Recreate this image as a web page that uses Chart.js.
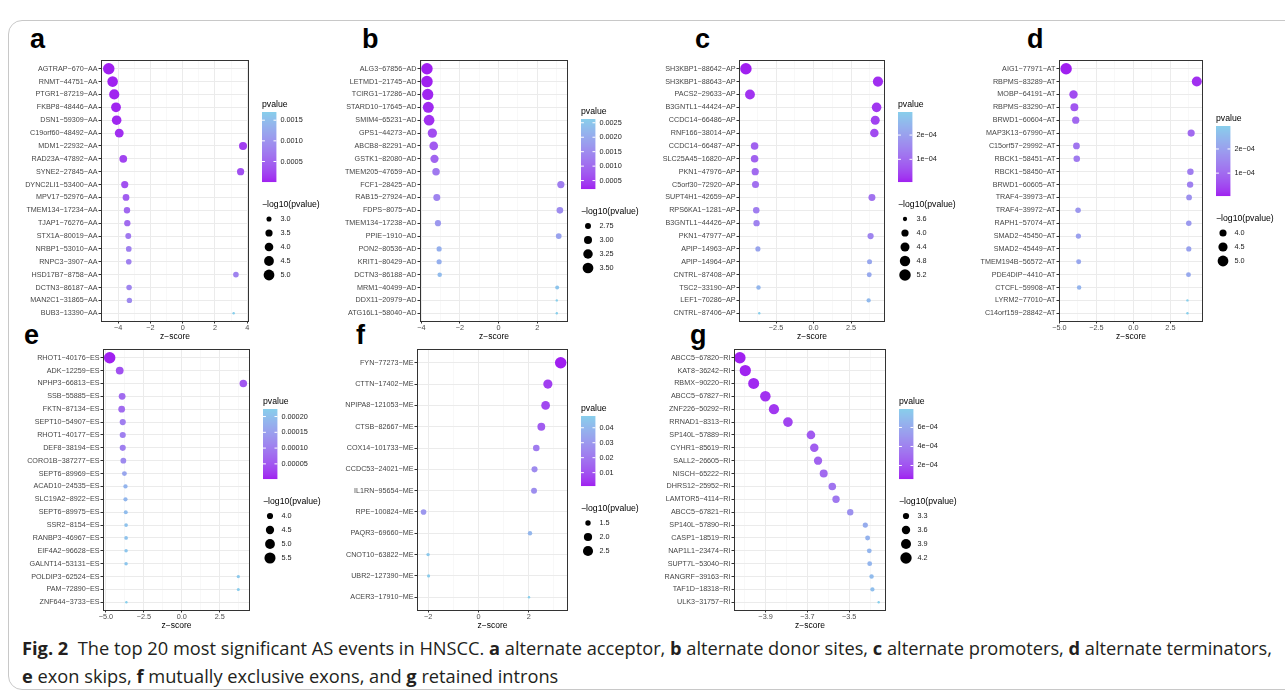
<!DOCTYPE html>
<html><head><meta charset="utf-8">
<script src="https://cdn.jsdelivr.net/npm/chart.js@4"></script>
<style>
html,body{margin:0;padding:0;background:#fff;}
body{width:1285px;height:697px;position:relative;overflow:hidden;font-family:"Liberation Sans",Arial,sans-serif;}
.frame{position:absolute;left:8px;top:20px;width:1320px;height:668px;border:1px solid #c8c8c8;border-radius:14px;}
.letter{position:absolute;font-weight:bold;font-size:27px;line-height:27px;color:#000;}
canvas{position:absolute;}
.cap{position:absolute;left:22px;white-space:nowrap;font-family:"Open Sans",sans-serif;font-size:18px;line-height:22px;color:#231f20;transform-origin:0 0;}
.cap b{font-weight:700;}
</style></head><body>
<div class="frame"></div>
<div class="letter" style="left:30px;top:26px">a</div>
<div class="letter" style="left:362px;top:26px">b</div>
<div class="letter" style="left:695px;top:26px">c</div>
<div class="letter" style="left:1027px;top:26px">d</div>
<div class="letter" style="left:24px;top:322px">e</div>
<div class="letter" style="left:356px;top:322px">f</div>
<div class="letter" style="left:690px;top:322px">g</div>
<div class="cap" id="cap1" style="top:637px"><b>Fig. 2</b>&nbsp; The top 20 most significant AS events in HNSCC. <b>a</b> alternate acceptor, <b>b</b> alternate donor sites, <b>c</b> alternate promoters, <b>d</b> alternate terminators,</div>
<div class="cap" id="cap2" style="top:665px"><b>e</b> exon skips, <b>f</b> mutually exclusive exons, and <b>g</b> retained introns</div>
<script>
// ---------- data ----------
const aEvents = ['AGTRAP−670−AA','RNMT−44751−AA','PTGR1−87219−AA','FKBP8−48446−AA','DSN1−59309−AA','C19orf60−48492−AA','MDM1−22932−AA','RAD23A−47892−AA','SYNE2−27845−AA','DYNC2LI1−53400−AA','MPV17−52976−AA','TMEM134−17234−AA','TJAP1−76276−AA','STX1A−80019−AA','NRBP1−53010−AA','RNPC3−3907−AA','HSD17B7−8758−AA','DCTN3−86187−AA','MAN2C1−31865−AA','BUB3−13390−AA'];
const aZ = [-4.58,-4.34,-4.24,-4.13,-4.09,-3.93,3.74,-3.68,3.59,-3.59,-3.51,-3.45,-3.43,-3.37,-3.34,-3.34,3.30,-3.32,-3.30,3.16];
const aLogP = [5.39,4.89,4.69,4.50,4.40,4.11,3.77,3.67,3.51,3.50,3.37,3.28,3.25,3.16,3.11,3.10,3.09,3.08,3.05,2.77];

const bEvents = ['ALG3−67856−AD','LETMD1−21745−AD','TCIRG1−17286−AD','STARD10−17645−AD','SMIM4−65231−AD','GPS1−44273−AD','ABCB8−82291−AD','GSTK1−82080−AD','TMEM205−47659−AD','FCF1−28425−AD','RAB15−27924−AD','FDPS−8075−AD','TMEM134−17238−AD','PPIE−1910−AD','PON2−80536−AD','KRIT1−80429−AD','DCTN3−86188−AD','MRM1−40499−AD','DDX11−20979−AD','ATG16L1−58040−AD'];
const bZ = [-3.71,-3.71,-3.67,-3.64,-3.60,-3.43,-3.36,-3.32,-3.24,3.22,-3.20,3.17,-3.14,3.11,-3.08,-3.08,-3.05,3.03,3.01,3.01];
const bLogP = [3.68,3.68,3.61,3.56,3.50,3.22,3.11,3.04,2.92,2.89,2.86,2.82,2.77,2.73,2.68,2.68,2.64,2.61,2.58,2.58];

const cEvents = ['SH3KBP1−88642−AP','SH3KBP1−88643−AP','PACS2−29633−AP','B3GNTL1−44424−AP','CCDC14−66486−AP','RNF166−38014−AP','CCDC14−66487−AP','SLC25A45−16820−AP','PKN1−47976−AP','C5orf30−72920−AP','SUPT4H1−42659−AP','RPS6KA1−1281−AP','B3GNTL1−44426−AP','PKN1−47977−AP','APIP−14963−AP','APIP−14964−AP','CNTRL−87408−AP','TSC2−33190−AP','LEF1−70286−AP','CNTRL−87406−AP'];
const cZ = [-4.51,4.29,-4.24,4.20,4.11,4.05,-3.93,-3.93,-3.89,-3.87,3.89,-3.82,-3.80,3.80,-3.71,3.73,3.71,-3.67,3.67,-3.62];
const cLogP = [5.19,4.75,4.65,4.57,4.40,4.29,4.07,4.07,4.00,3.96,3.95,3.87,3.84,3.83,3.68,3.67,3.66,3.61,3.60,3.53];

const dEvents = ['AIG1−77971−AT','RBPMS−83289−AT','MOBP−64191−AT','RBPMS−83290−AT','BRWD1−60604−AT','MAP3K13−67990−AT','C15orf57−29992−AT','RBCK1−58451−AT','RBCK1−58450−AT','BRWD1−60605−AT','TRAF4−39973−AT','TRAF4−39972−AT','RAPH1−57074−AT','SMAD2−45450−AT','SMAD2−45449−AT','TMEM194B−56572−AT','PDE4DIP−4410−AT','CTCFL−59908−AT','LYRM2−77010−AT','C14orf159−28842−AT'];
const dZ = [-4.55,4.28,-4.05,-3.99,-3.90,3.90,-3.85,-3.83,3.85,3.83,3.76,-3.74,3.74,-3.72,3.74,-3.70,3.72,-3.67,3.65,3.65];
const dLogP = [5.27,4.73,4.29,4.18,4.02,4.01,3.93,3.89,3.88,3.86,3.77,3.74,3.73,3.70,3.69,3.67,3.66,3.62,3.53,3.53];

const eEvents = ['RHOT1−40176−ES','ADK−12259−ES','NPHP3−66813−ES','SSB−55885−ES','FKTN−87134−ES','SEPT10−54907−ES','RHOT1−40177−ES','DEF8−38194−ES','CORO1B−387277−ES','SEPT6−89969−ES','ACAD10−24535−ES','SLC19A2−8922−ES','SEPT6−89975−ES','SSR2−8154−ES','RANBP3−46967−ES','EIF4A2−96628−ES','GALNT14−53131−ES','POLDIP3−62524−ES','PAM−72890−ES','ZNF644−3733−ES'];
const eZ = [-4.75,-4.09,4.05,-3.93,-3.96,-3.89,-3.89,-3.89,-3.85,-3.78,-3.71,-3.71,-3.69,-3.67,-3.67,-3.67,-3.67,3.72,3.72,-3.65];
const eLogP = [5.69,4.37,4.29,4.13,4.12,4.00,3.99,3.99,3.93,3.80,3.74,3.73,3.71,3.69,3.69,3.68,3.68,3.67,3.66,3.65];

const fEvents = ['FYN−77273−ME','CTTN−17402−ME','NPIPA8−121053−ME','CTSB−82667−ME','COX14−101733−ME','CCDC53−24021−ME','IL1RN−95654−ME','RPE−100824−ME','PAQR3−69660−ME','CNOT10−63822−ME','UBR2−127390−ME','ACER3−17910−ME'];
const fZ = [3.27,2.76,2.67,2.50,2.30,2.23,2.21,-2.18,2.05,-2.00,-1.98,2.01];
const fLogP = [2.97,2.24,2.12,1.91,1.67,1.59,1.57,1.53,1.40,1.34,1.33,1.32];

const gEvents = ['ABCC5−67820−RI','KAT8−36242−RI','RBMX−90220−RI','ABCC5−67827−RI','ZNF226−50292−RI','RRNAD1−8313−RI','SP140L−57889−RI','CYHR1−85619−RI','SALL2−26605−RI','NISCH−65222−RI','DHRS12−25952−RI','LAMTOR5−4114−RI','ABCC5−67821−RI','SP140L−57890−RI','CASP1−18519−RI','NAP1L1−23474−RI','SUPT7L−53040−RI','RANGRF−39163−RI','TAF1D−18318−RI','ULK3−31757−RI'];
const gZ = [-4.023,-3.997,-3.957,-3.901,-3.860,-3.793,-3.683,-3.667,-3.649,-3.622,-3.581,-3.563,-3.495,-3.423,-3.412,-3.404,-3.402,-3.393,-3.389,-3.359];
const gLogP = [4.24,4.19,4.12,4.02,3.95,3.83,3.64,3.61,3.58,3.53,3.47,3.44,3.32,3.21,3.19,3.18,3.18,3.16,3.15,3.10];

// tick labels
const aXTicks = [-4,-2,0,2,4];      const aXLabels = ['−4','−2','0','2','4'];
const bXTicks = [-4,-2,0,2];        const bXLabels = ['−4','−2','0','2'];
const cXTicks = [-2.5,0,2.5];       const cXLabels = ['−2.5','0.0','2.5'];
const dXTicks = [-5,-2.5,0,2.5];    const dXLabels = ['−5.0','−2.5','0.0','2.5'];
const eXTicks = [-5,-2.5,0,2.5];    const eXLabels = ['−5.0','−2.5','0.0','2.5'];
const fXTicks = [-2,0,2];           const fXLabels = ['−2','0','2'];
const gXTicks = [-3.9,-3.7,-3.5];   const gXLabels = ['−3.9','−3.7','−3.5'];

const aPBreaks = [0.0005,0.0010,0.0015];               const aPLabels = ['0.0005','0.0010','0.0015'];
const bPBreaks = [0.0005,0.0010,0.0015,0.0020,0.0025]; const bPLabels = ['0.0005','0.0010','0.0015','0.0020','0.0025'];
const cPBreaks = [1e-4,2e-4];                          const cPLabels = ['1e−04','2e−04'];
const dPBreaks = [1e-4,2e-4];                          const dPLabels = ['1e−04','2e−04'];
const ePBreaks = [0.00005,0.00010,0.00015,0.00020];    const ePLabels = ['0.00005','0.00010','0.00015','0.00020'];
const fPBreaks = [0.01,0.02,0.03,0.04];                const fPLabels = ['0.01','0.02','0.03','0.04'];
const gPBreaks = [2e-4,4e-4,6e-4];                     const gPLabels = ['2e−04','4e−04','6e−04'];

const aSizeBreaks = [3.0,3.5,4.0,4.5,5.0];   const aSizeLabels = ['3.0','3.5','4.0','4.5','5.0'];
const bSizeBreaks = [2.75,3.00,3.25,3.50];   const bSizeLabels = ['2.75','3.00','3.25','3.50'];
const cSizeBreaks = [3.6,4.0,4.4,4.8,5.2];   const cSizeLabels = ['3.6','4.0','4.4','4.8','5.2'];
const dSizeBreaks = [4.0,4.5,5.0];           const dSizeLabels = ['4.0','4.5','5.0'];
const eSizeBreaks = [4.0,4.5,5.0,5.5];       const eSizeLabels = ['4.0','4.5','5.0','5.5'];
const fSizeBreaks = [1.5,2.0,2.5];           const fSizeLabels = ['1.5','2.0','2.5'];
const gSizeBreaks = [3.3,3.6,3.9,4.2];       const gSizeLabels = ['3.3','3.6','3.9','4.2'];

// ---------- layout (page px) ----------
const panels = [
 {ev:aEvents,z:aZ,lp:aLogP,xt:aXTicks,xl:aXLabels,pb:aPBreaks,pl:aPLabels,sb:aSizeBreaks,sl:aSizeLabels,rect:[101,61,248.7,320.5],xr:[-5.06,4.11],lc:190},
 {ev:bEvents,z:bZ,lp:bLogP,xt:bXTicks,xl:bXLabels,pb:bPBreaks,pl:bPLabels,sb:bSizeBreaks,sl:bSizeLabels,rect:[420,61,567.7,320.5],xr:[-4.07,3.59],lc:190},
 {ev:cEvents,z:cZ,lp:cLogP,xt:cXTicks,xl:cXLabels,pb:cPBreaks,pl:cPLabels,sb:cSizeBreaks,sl:cSizeLabels,rect:[739.3,61,885.7,320.5],xr:[-4.97,4.76],lc:190},
 {ev:dEvents,z:dZ,lp:dLogP,xt:dXTicks,xl:dXLabels,pb:dPBreaks,pl:dPLabels,sb:dSizeBreaks,sl:dSizeLabels,rect:[1059.3,61,1203.3,320.5],xr:[-5.03,4.70],lc:190},
 {ev:eEvents,z:eZ,lp:eLogP,xt:eXTicks,xl:eXLabels,pb:ePBreaks,pl:ePLabels,sb:eSizeBreaks,sl:eSizeLabels,rect:[102.7,350,249.3,610],xr:[-5.19,4.49],lc:480},
 {ev:fEvents,z:fZ,lp:fLogP,xt:fXTicks,xl:fXLabels,pb:fPBreaks,pl:fPLabels,sb:fSizeBreaks,sl:fSizeLabels,rect:[417,350,567.7,610],xr:[-2.44,3.56],lc:480},
 {ev:gEvents,z:gZ,lp:gLogP,xt:gXTicks,xl:gXLabels,pb:gPBreaks,pl:gPLabels,sb:gSizeBreaks,sl:gSizeLabels,rect:[733.7,349.5,885.7,609.7],xr:[-4.051,-3.324],lc:480}
];

// ---------- colour helpers (CIELAB interpolation like ggplot) ----------
function s2l(c){c/=255;return c<=0.04045?c/12.92:Math.pow((c+0.055)/1.055,2.4);}
function l2s(c){c=c<=0.0031308?12.92*c:1.055*Math.pow(c,1/2.4)-0.055;return Math.max(0,Math.min(255,Math.round(c*255)));}
function rgb2lab(rgb){const r=s2l(rgb[0]),g=s2l(rgb[1]),b=s2l(rgb[2]);
 const X=(0.4124*r+0.3576*g+0.1805*b)/0.95047,Y=(0.2126*r+0.7152*g+0.0722*b),Z=(0.0193*r+0.1192*g+0.9505*b)/1.08883;
 const f=t=>t>0.008856?Math.cbrt(t):(7.787*t+16/116);const fx=f(X),fy=f(Y),fz=f(Z);
 return [116*fy-16,500*(fx-fy),200*(fy-fz)];}
function lab2rgb(l){const fy=(l[0]+16)/116,fx=fy+l[1]/500,fz=fy-l[2]/200;
 const fi=t=>{const t3=t*t*t;return t3>0.008856?t3:(t-16/116)/7.787;};
 const X=fi(fx)*0.95047,Y=fi(fy),Z=fi(fz)*1.08883;
 const r=3.2406*X-1.5372*Y-0.4986*Z,g=-0.9689*X+1.8758*Y+0.0415*Z,b=0.0557*X-0.2040*Y+1.0570*Z;
 return 'rgb('+l2s(r)+','+l2s(g)+','+l2s(b)+')';}
const LOW=rgb2lab([160,32,240]), HIGH=rgb2lab([135,206,235]);
function grad(t){t=Math.max(0,Math.min(1,t));return lab2rgb([0,1,2].map(k=>LOW[k]+(HIGH[k]-LOW[k])*t));}
function radiusFor(v,vmin,vmax){const t=Math.max(0,Math.min(1,(v-vmin)/(vmax-vmin)));return 1.2+4.55*Math.sqrt(t);}

const FAM='"Liberation Sans", Arial, sans-serif';
Chart.defaults.font.family=FAM;

const YW=100, PADT=8, XH=21, LEGW=110;

function makePanel(P){
  const [L,T,R,B]=P.rect;
  const cLeft=Math.round(L)-YW, cTop=Math.round(T)-PADT;
  const plotW=Math.round(R-L), plotH=Math.round(B-T);
  const W=YW+plotW+LEGW, H=PADT+plotH+XH;
  const cv=document.createElement('canvas');
  cv.width=W;cv.height=H;cv.style.left=cLeft+'px';cv.style.top=cTop+'px';
  cv.style.width=W+'px';cv.style.height=H+'px';
  document.body.appendChild(cv);

  const n=P.ev.length;
  const pv=P.lp.map(v=>Math.pow(10,-v));
  const pmin=Math.min(...pv), pmax=Math.max(...pv);
  const vmin=Math.min(...P.lp), vmax=Math.max(...P.lp);
  const colors=pv.map(p=>grad((p-pmin)/(pmax-pmin)));
  const radii=P.lp.map(v=>radiusFor(v,vmin,vmax));

  const step=P.xt[1]-P.xt[0];
  const xticks=P.xt.map((v,i)=>({value:v,lab:P.xl[i],minor:false}));
  const mins=[P.xt[0]-step/2];
  for(let i=0;i<P.xt.length;i++) mins.push(P.xt[i]+step/2);
  mins.forEach(m=>{ if(m>P.xr[0]&&m<P.xr[1]) xticks.push({value:m,lab:'',minor:true}); });
  xticks.sort((a,b)=>a.value-b.value);

  const legend={
    id:'ggLegend',
    afterDraw(chart){
      const ctx=chart.ctx, ca=chart.chartArea;
      const x0=ca.right+13;
      const nk=P.sb.length;
      const blockH=125+14*(nk-1);
      const tc=P.lc-blockH/2+5.5-cTop;
      ctx.save();
      ctx.fillStyle='#000';ctx.textBaseline='middle';ctx.textAlign='left';
      ctx.font='8.7px '+FAM;
      ctx.fillText('pvalue',x0,tc);
      const bt=tc+7, bh=70, bw=14.4, bb=bt+bh;
      for(let y=0;y<bh;y++){ctx.fillStyle=grad(1-(y+0.5)/bh);ctx.fillRect(x0,bt+y,bw,1.05);}
      ctx.strokeStyle='#fff';ctx.lineWidth=1;
      ctx.font='7.3px '+FAM;
      P.pb.forEach((b,i)=>{
        const y=bb-(b-pmin)/(pmax-pmin)*bh;
        ctx.beginPath();ctx.moveTo(x0,y);ctx.lineTo(x0+2.9,y);ctx.moveTo(x0+bw-2.9,y);ctx.lineTo(x0+bw,y);ctx.stroke();
        ctx.fillStyle='#1a1a1a';ctx.fillText(P.pl[i],x0+18.4,y);
      });
      ctx.fillStyle='#000';
      ctx.font='8.7px '+FAM;
      ctx.fillText('−log10(pvalue)',x0,tc+99.4);
      ctx.font='7.3px '+FAM;
      P.sb.forEach((s,i)=>{
        const y=tc+114+14*i;
        ctx.fillStyle='#000';ctx.beginPath();ctx.arc(x0+7,y,radiusFor(s,vmin,vmax),0,Math.PI*2);ctx.fill();
        ctx.fillStyle='#1a1a1a';ctx.fillText(P.sl[i],x0+18.4,y);
      });
      ctx.restore();
    }
  };
  const frame={
    id:'ggFrame',
    afterDatasetsDraw(chart){
      const ctx=chart.ctx, ca=chart.chartArea;
      ctx.save();ctx.strokeStyle='#333333';ctx.lineWidth=1;
      ctx.strokeRect(Math.round(ca.left)+0.5,Math.round(ca.top)-0.5,Math.round(ca.right-ca.left)-1,Math.round(ca.bottom-ca.top)+1);
      ctx.restore();
    }
  };

  new Chart(cv,{
    type:'scatter',
    data:{datasets:[{data:P.z.map((x,i)=>({x:x,y:i})),pointRadius:radii,pointHoverRadius:radii,
      pointBackgroundColor:colors,pointBorderWidth:0,borderWidth:0,clip:false}]},
    options:{
      responsive:false,animation:false,devicePixelRatio:1,
      layout:{padding:{left:0,top:PADT,right:LEGW,bottom:0}},
      plugins:{legend:{display:false},tooltip:{enabled:false}},
      events:[],
      scales:{
        x:{type:'linear',position:'bottom',min:P.xr[0],max:P.xr[1],
          afterBuildTicks:s=>{s.ticks=xticks.map(t=>({value:t.value,lab:t.lab,minor:t.minor}));},
          afterFit:s=>{s.height=XH;},
          ticks:{autoSkip:false,maxRotation:0,padding:0.5,color:'#4d4d4d',font:{size:7.3,lineHeight:1},
            callback:(v,i,ts)=>ts[i].lab},
          grid:{color:ctx=>ctx.tick&&ctx.tick.minor?'#f3f3f3':'#ebebeb',lineWidth:ctx=>ctx.tick&&ctx.tick.minor?0.6:1,
            tickLength:2.5,tickColor:ctx=>ctx.tick&&ctx.tick.minor?'rgba(0,0,0,0)':'#333333',tickWidth:1},
          border:{display:false},
          title:{display:true,text:'z−score',color:'#000',font:{size:8.5},padding:{top:0,bottom:0}}
        },
        y:{type:'linear',position:'left',reverse:true,min:-0.6,max:n-0.4,
          afterBuildTicks:s=>{s.ticks=P.ev.map((e,i)=>({value:i}));},
          afterFit:s=>{s.width=YW;},
          ticks:{autoSkip:false,padding:1,color:'#454545',font:{size:7.2,lineHeight:1},
            callback:v=>P.ev[v]},
          grid:{color:'#ebebeb',lineWidth:1,tickLength:2.5,tickColor:'#333333',tickWidth:1},
          border:{display:false}
        }
      }
    },
    plugins:[frame,legend]
  });
}
panels.forEach(makePanel);

(function(){
  const c1=document.getElementById('cap1'),c2=document.getElementById('cap2');
  const w=c1.getBoundingClientRect().width;
  const s=1250/w;
  c1.style.transform='scaleX('+s+')';c2.style.transform='scaleX('+s+')';
})();
</script>
</body></html>
